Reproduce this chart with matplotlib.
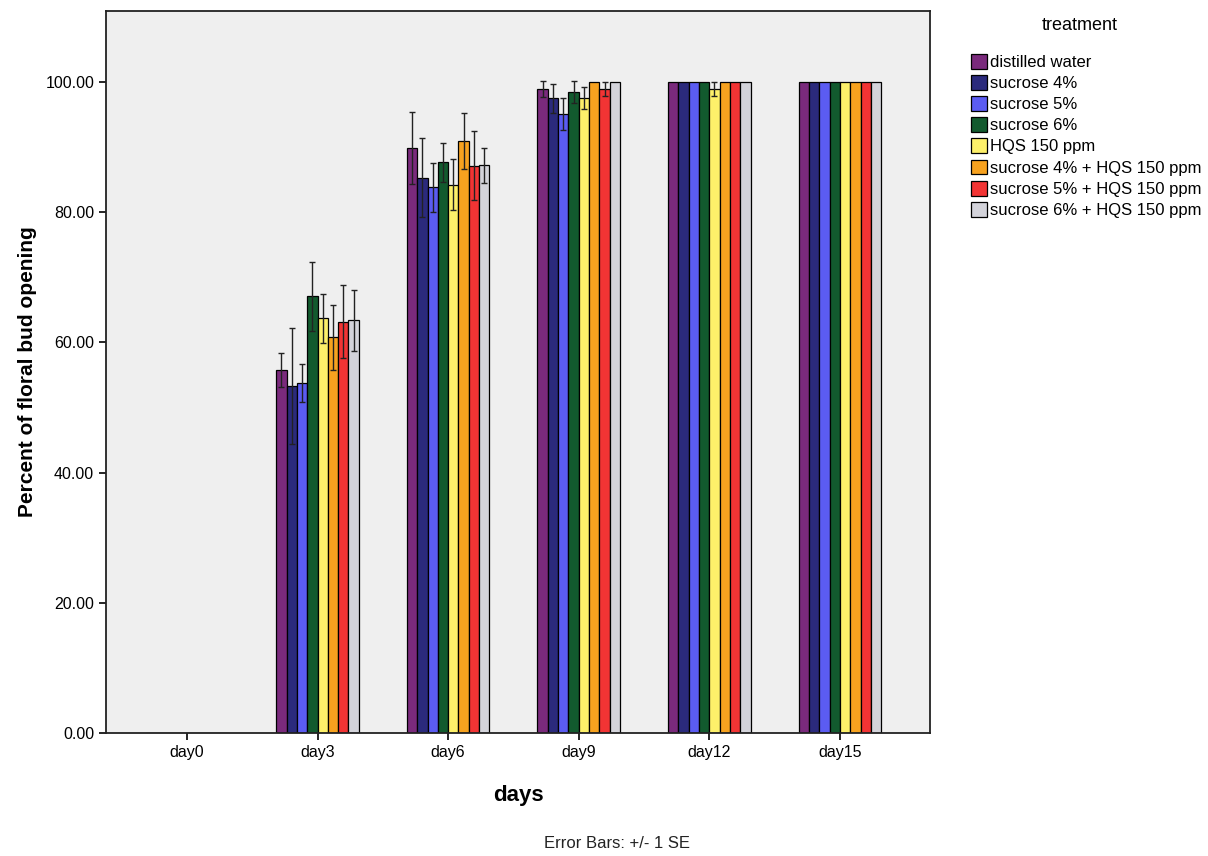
import numpy as np
import matplotlib.pyplot as plt
from matplotlib.patches import Patch

plt.rcParams['font.family'] = ['Liberation Sans', 'DejaVu Sans']

days = ["day0", "day3", "day6", "day9", "day12", "day15"]
treatments = [
    "distilled water",
    "sucrose 4%",
    "sucrose 5%",
    "sucrose 6%",
    "HQS 150 ppm",
    "sucrose 4% + HQS 150 ppm",
    "sucrose 5% + HQS 150 ppm",
    "sucrose 6% + HQS 150 ppm",
]
colors = ["#7a2a7c", "#2b2a7c", "#5b5cf2", "#125a2e",
          "#fdf06a", "#f7a21f", "#f23434", "#d3d3da"]

# mean % opening per treatment, one value per day
means = [
    [0, 55.7, 89.9, 98.9, 100.0, 100.0],
    [0, 53.3, 85.3, 97.5, 100.0, 100.0],
    [0, 53.8, 83.8, 95.1, 100.0, 100.0],
    [0, 67.1, 87.7, 98.5, 100.0, 100.0],
    [0, 63.7, 84.2, 97.5, 98.9, 100.0],
    [0, 60.8, 91.0, 100.0, 100.0, 100.0],
    [0, 63.2, 87.1, 98.9, 100.0, 100.0],
    [0, 63.4, 87.2, 100.0, 100.0, 100.0],
]
# standard errors
errors = [
    [0, 2.6, 5.5, 1.2, 0, 0],
    [0, 8.9, 6.1, 2.2, 0, 0],
    [0, 2.9, 3.7, 2.5, 0, 0],
    [0, 5.3, 3.0, 1.7, 0, 0],
    [0, 3.8, 3.9, 1.7, 1.1, 0],
    [0, 5.0, 4.3, 0, 0, 0],
    [0, 5.6, 5.3, 1.1, 0, 0],
    [0, 4.7, 2.7, 0, 0, 0],
]

fig = plt.figure(figsize=(12.08, 8.56), dpi=100)
ax = fig.add_axes([106 / 1208, 123 / 856, 824 / 1208, 722 / 856])
ax.set_facecolor("#efefef")

x = np.arange(len(days))
width = 0.079
n = len(treatments)
for i, (name, col) in enumerate(zip(treatments, colors)):
    pos = x + (i - (n - 1) / 2) * width
    m = np.array(means[i])
    e = np.array(errors[i])
    ax.bar(pos, m, width, color=col, edgecolor="black", linewidth=0.9, zorder=2)
    has = e > 0
    ax.errorbar(pos[has], m[has], yerr=e[has], fmt="none", ecolor="#222222",
                elinewidth=1.0, capsize=2.5, capthick=1.0, zorder=3)

ax.set_xlim(-0.62, 5.69)
ax.set_ylim(0, 110.9)
ax.set_xticks(x)
ax.set_xticklabels(days)
ax.set_yticks([0, 20, 40, 60, 80, 100])
ax.set_yticklabels([f"{v:.2f}" for v in [0, 20, 40, 60, 80, 100]])
ax.tick_params(axis="both", labelsize=11.5, direction="out", length=5, width=1.2)
for s in ax.spines.values():
    s.set_linewidth(1.3)
    s.set_color("#222222")

ax.set_xlabel("days", fontsize=16, fontweight="bold", labelpad=18)
ax.set_ylabel("Percent of floral bud opening", fontsize=15, fontweight="bold",
              labelpad=6)

fig.text(617 / 1208, 1 - 843 / 856, "Error Bars: +/- 1 SE", fontsize=12,
         ha="center", va="center", color="#222222")

fig.text(1080 / 1208, 1 - 25 / 856, "treatment", fontsize=13,
         ha="center", va="center")
handles = [Patch(facecolor=c, edgecolor="black", linewidth=0.9) for c in colors]
leg = fig.legend(handles, treatments, loc="upper left",
                 bbox_to_anchor=(964 / 1208, 1 - 47 / 856), frameon=False,
                 fontsize=12, handlelength=1.0, handleheight=1.0,
                 handletextpad=0.15, labelspacing=0.3, borderaxespad=0)

fig.savefig("out.png", dpi=100, facecolor="white")
